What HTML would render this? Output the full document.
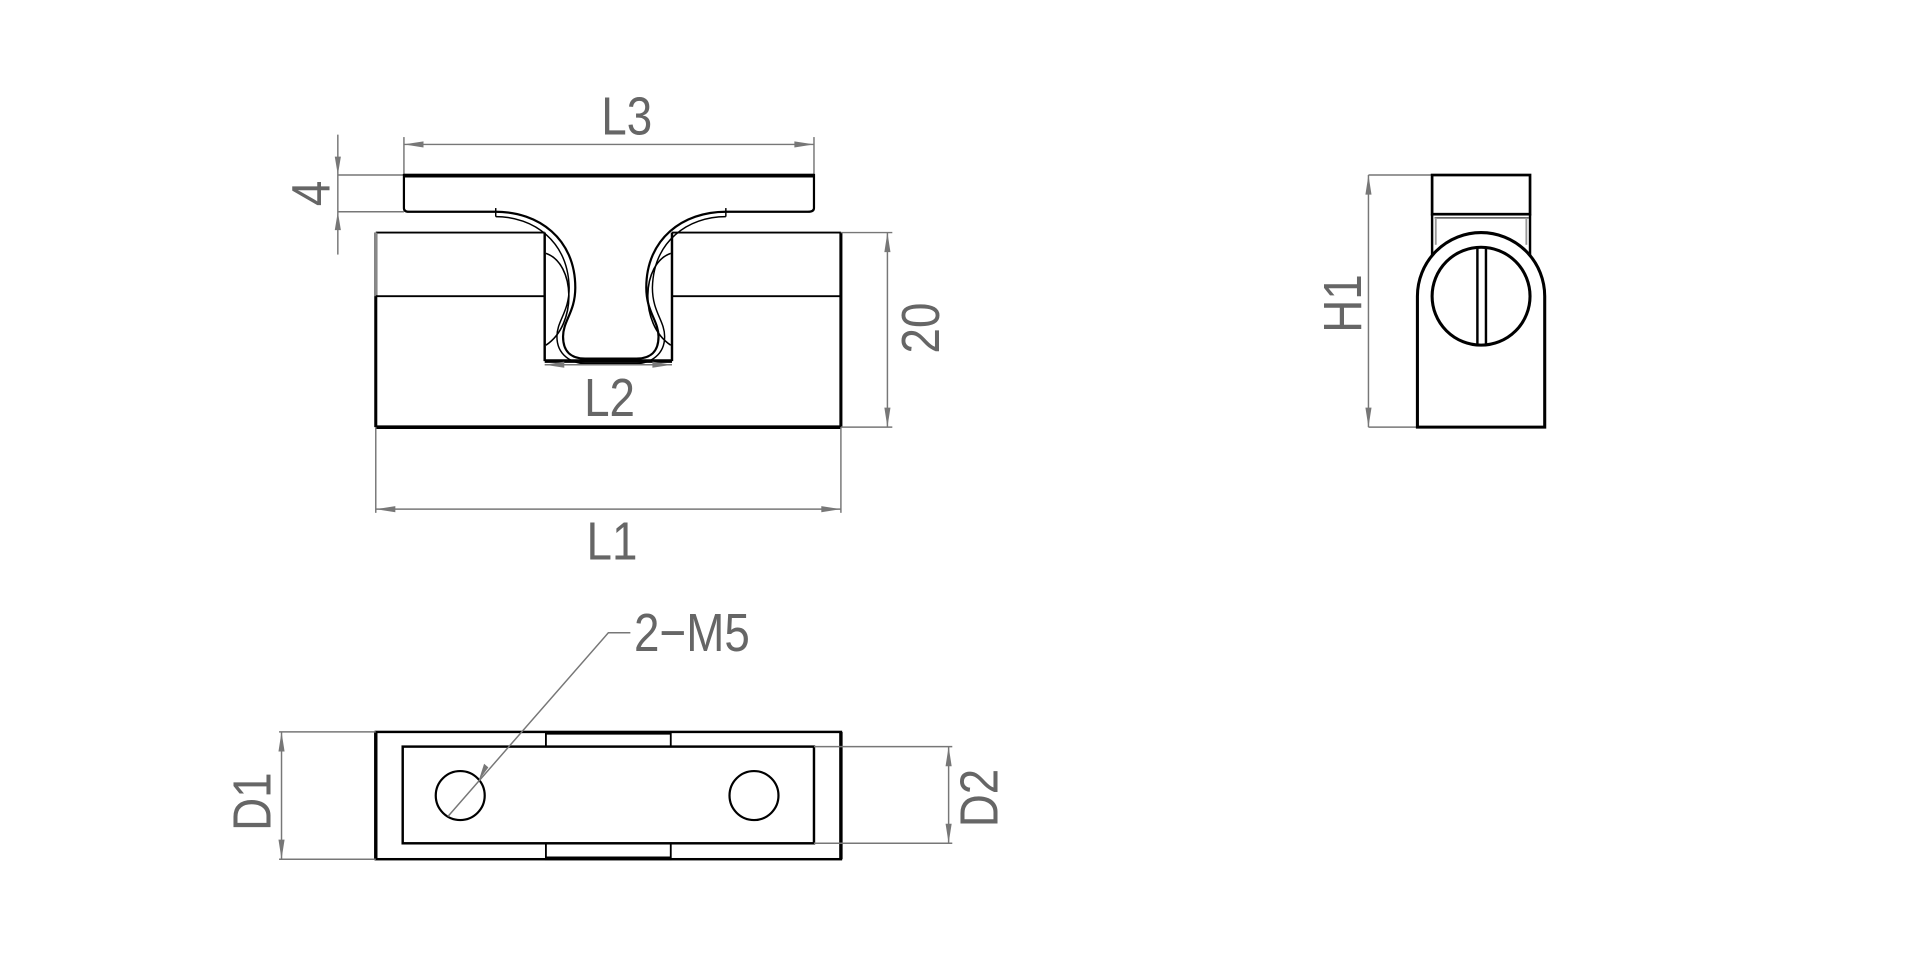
<!DOCTYPE html>
<html><head><meta charset="utf-8"><style>
html,body{margin:0;padding:0;background:#fff;width:1920px;height:957px;overflow:hidden}
svg{display:block}
.d{stroke:#777;stroke-width:1.2;fill:none}
.o{stroke:#000;stroke-width:2;fill:none}
.t{fill:#666;font-family:"Liberation Sans",sans-serif;font-size:44px}
.a{fill:#777}
</style></head><body>
<svg width="1920" height="957" viewBox="0 0 1568.6 781.9" preserveAspectRatio="none">
<!-- FRONT VIEW -->
<line class="d" x1="330" y1="112" x2="330" y2="143"/>
<line class="d" x1="665" y1="112" x2="665" y2="143"/>
<line class="d" x1="330" y1="118" x2="665" y2="118"/>
<polygon class="a" points="330,118 346,115.5 346,120.5"/>
<polygon class="a" points="665,118 649,115.5 649,120.5"/>
<text class="t" transform="translate(512,110) scale(0.85,1)" text-anchor="middle">L3</text>
<line class="d" x1="276" y1="110" x2="276" y2="208"/>
<line class="d" x1="276" y1="143" x2="330" y2="143"/>
<line class="d" x1="276" y1="173" x2="330" y2="173"/>
<polygon class="a" points="276,143 273.5,128 278.5,128"/>
<polygon class="a" points="276,173 273.5,188 278.5,188"/>
<text class="t" transform="translate(269,158) rotate(-90) scale(0.85,1)" text-anchor="middle">4</text>
<path class="o" d="M330,143 L665,143 L665,170 Q665,173 660,173 L593,173 C558,173 528,195 528,235 C528,255 538,262 538,275 C538,290 528,293 520,293 L478,293 C470,293 460,290 460,275 C460,262 470,255 470,235 C470,195 440,173 405,173 L334,173 Q330,173 330,170 Z" style="stroke-width:1.8"/>
<line x1="330" y1="143.5" x2="665" y2="143.5" stroke="#000" stroke-width="3"/>
<path class="o" style="stroke-width:1.2" d="M405,177 C436,177 464,197 465,235 C465,255 455,262 455,275 C455,290 467,297 478,297 L520,297 C531,297 543,290 543,275 C543,262 533,255 533,235 C534,197 562,177 593,177"/>
<line class="o" style="stroke-width:1.2" x1="405" y1="170" x2="405" y2="177"/>
<line class="o" style="stroke-width:1.2" x1="593" y1="170" x2="593" y2="177"/>
<line x1="307" y1="190" x2="445" y2="190" stroke="#000" stroke-width="1.5"/>
<line x1="549" y1="190" x2="687" y2="190" stroke="#000" stroke-width="1.5"/>
<line x1="307" y1="190" x2="307" y2="349" stroke="#000" stroke-width="2.5"/>
<line x1="307" y1="190" x2="307" y2="242" stroke="#888" stroke-width="2.5"/>
<line x1="687" y1="190" x2="687" y2="349" stroke="#000" stroke-width="2.5"/>
<line x1="307" y1="349" x2="687" y2="349" stroke="#000" stroke-width="3"/>
<line x1="307" y1="242" x2="445" y2="242" stroke="#000" stroke-width="1.5"/>
<line x1="549" y1="242" x2="687" y2="242" stroke="#000" stroke-width="1.5"/>
<line x1="445" y1="190" x2="445" y2="295" stroke="#000" stroke-width="2"/>
<line x1="549" y1="190" x2="549" y2="295" stroke="#000" stroke-width="2"/>
<line x1="445" y1="295" x2="549" y2="295" stroke="#000" stroke-width="3"/>
<path class="o" style="stroke-width:1.3" d="M446,207 C470,215 472,265 446,282"/>
<path class="o" style="stroke-width:1.3" d="M548,207 C524,215 522,265 548,282"/>
<line class="d" x1="445" y1="298" x2="549" y2="298"/>
<polygon class="a" points="445,298 461,295.5 461,300.5"/>
<polygon class="a" points="549,298 533,295.5 533,300.5"/>
<text class="t" transform="translate(498,340) scale(0.85,1)" text-anchor="middle">L2</text>
<line class="d" x1="687" y1="190" x2="729" y2="190"/>
<line class="d" x1="687" y1="349" x2="729" y2="349"/>
<line class="d" x1="725" y1="190" x2="725" y2="349"/>
<polygon class="a" points="725,190 722.5,206 727.5,206"/>
<polygon class="a" points="725,349 722.5,333 727.5,333"/>
<text class="t" transform="translate(767,268) rotate(-90) scale(0.85,1)" text-anchor="middle">20</text>
<line class="d" x1="307" y1="349" x2="307" y2="419"/>
<line class="d" x1="687" y1="349" x2="687" y2="419"/>
<line class="d" x1="307" y1="416" x2="687" y2="416"/>
<polygon class="a" points="307,416 323,413.5 323,418.5"/>
<polygon class="a" points="687,416 671,413.5 671,418.5"/>
<text class="t" transform="translate(500,457) scale(0.85,1)" text-anchor="middle">L1</text>

<!-- RIGHT VIEW -->
<line class="d" x1="1118" y1="143" x2="1170" y2="143"/>
<line class="d" x1="1118" y1="349" x2="1158" y2="349"/>
<line class="d" x1="1118" y1="143" x2="1118" y2="349"/>
<polygon class="a" points="1118,143 1115.5,159 1120.5,159"/>
<polygon class="a" points="1118,349 1115.5,333 1120.5,333"/>
<text class="t" transform="translate(1112,248) rotate(-90) scale(0.85,1)" text-anchor="middle">H1</text>
<rect x="1170" y="143" width="80" height="32" fill="none" stroke="#000" stroke-width="2.2"/>
<line x1="1172" y1="178" x2="1249" y2="178" stroke="#555" stroke-width="1.2"/>
<line x1="1173" y1="178" x2="1173" y2="200" stroke="#999" stroke-width="1.5"/>
<line x1="1247" y1="178" x2="1247" y2="200" stroke="#999" stroke-width="1.5"/>
<line x1="1170" y1="175" x2="1170" y2="248" stroke="#000" stroke-width="2"/>
<line x1="1250" y1="175" x2="1250" y2="248" stroke="#000" stroke-width="2"/>
<path d="M1158,349 L1158,242 A52,52 0 0 1 1262,242 L1262,349 Z" fill="#fff" stroke="#000" stroke-width="2.5"/>
<circle cx="1210" cy="242" r="40" fill="none" stroke="#000" stroke-width="2.5"/>
<line x1="1207" y1="203" x2="1207" y2="281" stroke="#000" stroke-width="2"/>
<line x1="1214" y1="203" x2="1214" y2="281" stroke="#000" stroke-width="2"/>

<!-- BOTTOM VIEW -->
<rect x="307" y="598" width="380" height="104" fill="none" stroke="#000" stroke-width="2"/>
<line x1="307" y1="598" x2="307" y2="702" stroke="#000" stroke-width="2.8"/>
<line x1="687" y1="598" x2="687" y2="702" stroke="#000" stroke-width="2.8"/>
<rect x="329" y="610" width="336" height="79" fill="none" stroke="#000" stroke-width="2"/>
<rect x="446" y="598" width="102" height="12" fill="none" stroke="#000" stroke-width="1.5"/>
<line x1="446" y1="599" x2="548" y2="599" stroke="#000" stroke-width="2.5"/>
<rect x="446" y="689" width="102" height="13" fill="none" stroke="#000" stroke-width="1.5"/>
<line x1="446" y1="701" x2="548" y2="701" stroke="#000" stroke-width="2.5"/>
<circle cx="376" cy="650" r="20" fill="none" stroke="#000" stroke-width="1.8"/>
<circle cx="616" cy="650" r="20" fill="none" stroke="#000" stroke-width="1.8"/>
<polyline class="d" points="366,667 497,517 515,517"/>
<polygon class="a" points="391,638 395.5,624 399,627"/>
<text class="t" transform="translate(518,532) scale(0.85,1)">2−M5</text>
<line class="d" x1="228" y1="598" x2="307" y2="598"/>
<line class="d" x1="228" y1="702" x2="307" y2="702"/>
<line class="d" x1="230" y1="598" x2="230" y2="702"/>
<polygon class="a" points="230,598 227.5,614 232.5,614"/>
<polygon class="a" points="230,702 227.5,686 232.5,686"/>
<text class="t" transform="translate(221,655) rotate(-90) scale(0.85,1)" text-anchor="middle">D1</text>
<line class="d" x1="665" y1="610" x2="778" y2="610"/>
<line class="d" x1="665" y1="689" x2="778" y2="689"/>
<line class="d" x1="775" y1="610" x2="775" y2="689"/>
<polygon class="a" points="775,610 772.5,626 777.5,626"/>
<polygon class="a" points="775,689 772.5,673 777.5,673"/>
<text class="t" transform="translate(815,652) rotate(-90) scale(0.85,1)" text-anchor="middle">D2</text>
</svg>
</body></html>
